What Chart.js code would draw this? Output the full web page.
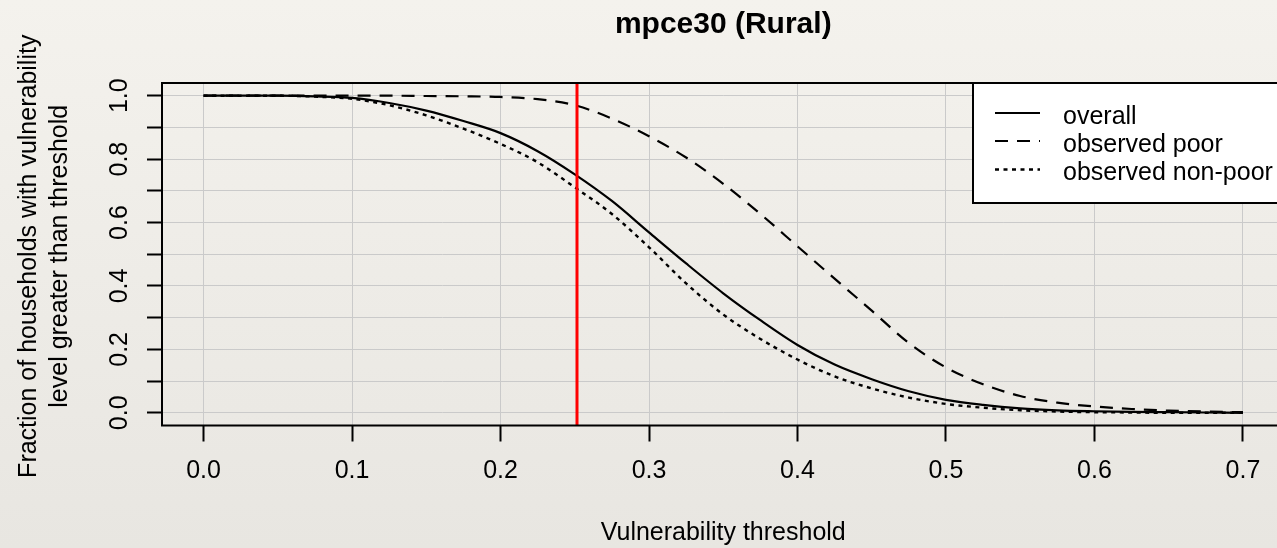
<!DOCTYPE html>
<html>
<head>
<meta charset="utf-8">
<title>mpce30 (Rural)</title>
<script src="https://cdn.jsdelivr.net/npm/chart.js@4.4.1/dist/chart.umd.min.js"></script>
<style>
  html, body { margin: 0; padding: 0; overflow: hidden; background: #efede8; }
  canvas { display: block; }
</style>
</head>
<body>
<canvas id="chart" width="1300" height="548"></canvas>
<script>
// texts
const chartTitle = 'mpce30 (Rural)';
const xTitle = 'Vulnerability threshold';
const yTitleLines = ['Fraction of households with vulnerability', 'level greater than threshold'];
const seriesLabels = ['overall', 'observed poor', 'observed non-poor'];

// data
const thresholds = [0, 0.025, 0.05, 0.075, 0.1, 0.125, 0.15, 0.175, 0.2, 0.225, 0.25, 0.275, 0.3, 0.325,
  0.35, 0.375, 0.4, 0.425, 0.45, 0.475, 0.5, 0.525, 0.55, 0.575, 0.6, 0.625, 0.65, 0.675, 0.7];
const overall = [1.000, 1.000, 1.000, 0.998, 0.993, 0.977, 0.953, 0.920, 0.882, 0.825, 0.752, 0.668, 0.569, 0.471,
  0.377, 0.292, 0.214, 0.152, 0.106, 0.068, 0.041, 0.025, 0.014, 0.008, 0.005, 0.003, 0.002, 0.001, 0.000];
const observedPoor = [1.000, 1.000, 1.000, 1.000, 1.000, 1.000, 0.999, 0.998, 0.996, 0.989, 0.970, 0.928, 0.872, 0.805,
  0.722, 0.627, 0.525, 0.423, 0.322, 0.220, 0.143, 0.090, 0.053, 0.032, 0.020, 0.012, 0.007, 0.004, 0.002];
const observedNonPoor = [1.000, 1.000, 1.000, 0.997, 0.990, 0.970, 0.938, 0.896, 0.848, 0.790, 0.711, 0.627, 0.522, 0.408,
  0.310, 0.233, 0.168, 0.115, 0.077, 0.048, 0.028, 0.016, 0.008, 0.004, 0.002, 0.001, 0.000, 0.000, 0.000];
const cutoff = 0.2515;

// axes (R style: 4% extension beyond data range)
const xRange = [-0.028, 0.728];
const yRange = [-0.04, 1.04];
const xTicks = [0, 0.1, 0.2, 0.3, 0.4, 0.5, 0.6, 0.7];
const yTicks = [0, 0.1, 0.2, 0.3, 0.4, 0.5, 0.6, 0.7, 0.8, 0.9, 1.0];
const yTickLabels = [0, 0.2, 0.4, 0.6, 0.8, 1.0];

const FONT = '"Liberation Sans", Arial, sans-serif';
const GRID = 'rgba(202, 202, 202, 1)';
const lineStyles = [
  { dash: [], width: 2.2 },
  { dash: [13, 9], width: 2.2 },
  { dash: [4, 4.5], width: 2.4 }
];

const pairs = vals => thresholds.map((x, i) => ({ x: x, y: vals[i] }));

// paper-like background
const paperPlugin = {
  id: 'paper',
  beforeDraw(chart) {
    const { ctx, width, height } = chart;
    const g = ctx.createLinearGradient(0, 0, 0, height);
    g.addColorStop(0, '#f4f2ed');
    g.addColorStop(1, '#e8e6e1');
    ctx.save();
    ctx.fillStyle = g;
    ctx.fillRect(0, 0, width, height);
    ctx.restore();
  }
};

// box, titles, rotated y labels and the legend, R base-graphics look
const rPlotPlugin = {
  id: 'rplot',
  afterDraw(chart) {
    const { ctx, chartArea: a, scales: { y } } = chart;
    const cx = (a.left + a.right) / 2;
    const cy = (a.top + a.bottom) / 2;
    ctx.save();
    ctx.strokeStyle = '#000';
    ctx.lineWidth = 2;
    ctx.strokeRect(a.left, a.top, a.right - a.left, a.bottom - a.top);

    ctx.fillStyle = '#000';
    ctx.textAlign = 'center';
    ctx.textBaseline = 'alphabetic';
    ctx.font = 'bold 30px ' + FONT;
    ctx.fillText(chartTitle, cx, 33);

    ctx.font = '25px ' + FONT;
    ctx.fillText(xTitle, cx, 540);

    yTickLabels.forEach(v => {
      ctx.save();
      ctx.translate(127, y.getPixelForValue(v));
      ctx.rotate(-Math.PI / 2);
      ctx.fillText(v.toFixed(1), 0, 0);
      ctx.restore();
    });
    [36, 67].forEach((bx, i) => {
      ctx.save();
      ctx.translate(bx, cy + 2);
      ctx.rotate(-Math.PI / 2);
      ctx.fillText(yTitleLines[i], 0, 0);
      ctx.restore();
    });

    // legend
    const lx = 973, ly = a.top, lb = 203;
    ctx.fillStyle = '#fff';
    ctx.fillRect(lx, ly, a.right - lx, lb - ly);
    ctx.strokeRect(lx, ly, a.right - lx, lb - ly);
    ctx.textAlign = 'left';
    const rows = [113, 141, 169.5];
    seriesLabels.forEach((label, i) => {
      ctx.beginPath();
      ctx.setLineDash(lineStyles[i].dash);
      ctx.lineWidth = lineStyles[i].width;
      ctx.moveTo(995, rows[i]);
      ctx.lineTo(1040, rows[i]);
      ctx.stroke();
      ctx.setLineDash([]);
      ctx.fillStyle = '#000';
      ctx.fillText(label, 1063, rows[i] + 10.5);
    });
    ctx.restore();
  }
};

const curve = (label, vals, i) => ({
  label: label,
  data: pairs(vals),
  borderColor: '#000',
  borderWidth: lineStyles[i].width,
  borderDash: lineStyles[i].dash,
  borderCapStyle: 'butt',
  pointRadius: 0,
  fill: false,
  cubicInterpolationMode: 'monotone'
});

new Chart(document.getElementById('chart'), {
  type: 'line',
  data: {
    datasets: [
      {
        label: 'cutoff',
        data: [{ x: cutoff, y: yRange[0] }, { x: cutoff, y: yRange[1] }],
        borderColor: '#ff0000',
        borderWidth: 3,
        pointRadius: 0,
        fill: false
      },
      curve(seriesLabels[0], overall, 0),
      curve(seriesLabels[1], observedPoor, 1),
      curve(seriesLabels[2], observedNonPoor, 2)
    ]
  },
  options: {
    responsive: false,
    animation: false,
    devicePixelRatio: 1,
    layout: { padding: { top: 83, right: 15.5, left: 0, bottom: 0 } },
    plugins: { legend: { display: false }, tooltip: { enabled: false } },
    scales: {
      x: {
        type: 'linear',
        min: xRange[0],
        max: xRange[1],
        afterBuildTicks: s => { s.ticks = xTicks.map(v => ({ value: v })); },
        afterFit: s => { s.height = 122.5; },
        border: { display: false },
        grid: { color: GRID, lineWidth: 1, tickColor: '#000', tickWidth: 2, tickLength: 16 },
        ticks: {
          autoSkip: false,
          maxRotation: 0,
          padding: 14.5,
          color: '#000',
          font: { family: FONT, size: 25, lineHeight: 1.2 },
          callback: v => Number(v).toFixed(1)
        }
      },
      y: {
        type: 'linear',
        min: yRange[0],
        max: yRange[1],
        afterBuildTicks: s => { s.ticks = yTicks.map(v => ({ value: v })); },
        afterFit: s => { s.width = 162; },
        border: { display: false },
        grid: { color: GRID, lineWidth: 1, tickColor: '#000', tickWidth: 2, tickLength: 15 },
        ticks: { display: false }
      }
    }
  },
  plugins: [paperPlugin, rPlotPlugin]
});
</script>
</body>
</html>
